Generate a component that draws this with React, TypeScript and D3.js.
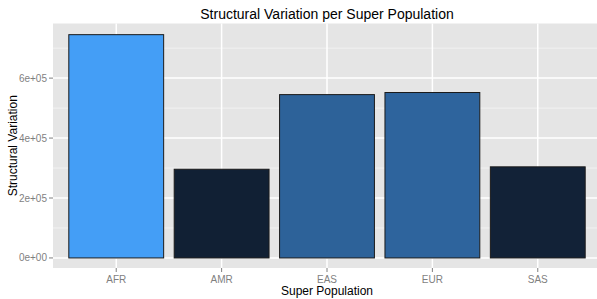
import React, { useEffect, useRef } from 'react';
import * as d3 from 'd3';

const populations = ['AFR', 'AMR', 'EAS', 'EUR', 'SAS'];
const variations = [745000, 296000, 545000, 552000, 304000];
const yTicks = [0, 200000, 400000, 600000];
const yMinor = [100000, 300000, 500000, 700000];

const W = 597;
const H = 299;

const App = (): React.ReactElement => {
  const ref = useRef<SVGSVGElement>(null);

  useEffect(() => {
    document.body.style.margin = '0';
    if (!ref.current) return;
    const svg = d3.select(ref.current);
    svg.selectAll('*').remove();

    const margin = { top: 23.5, right: -4, bottom: 31, left: 53 };
    const pw = W - margin.left - margin.right;
    const ph = H - margin.top - margin.bottom;
    const font = '"Liberation Sans", Arial, sans-serif';

    const maxV = d3.max(variations) as number;
    const y = d3
      .scaleLinear()
      .domain([-maxV * 0.045, maxV * 1.05])
      .range([ph, 0]);
    const x = d3
      .scaleBand<string>()
      .domain(populations)
      .range([0, pw])
      .paddingInner(0.1)
      .paddingOuter(0.15);

    const fill = d3
      .scaleLinear<string>()
      .domain([d3.min(variations) as number, maxV])
      .range(['#112034', '#449ef6'])
      .interpolate(d3.interpolateLab);

    const g = svg.append('g').attr('transform', `translate(${margin.left},${margin.top})`);

    g.append('rect').attr('width', pw).attr('height', ph).attr('fill', '#e5e5e5');

    g.selectAll('line.minor')
      .data(yMinor)
      .join('line')
      .attr('x1', 0)
      .attr('x2', pw)
      .attr('y1', (d) => y(d))
      .attr('y2', (d) => y(d))
      .attr('stroke', '#f2f2f2')
      .attr('stroke-width', 1);

    g.selectAll('line.majory')
      .data(yTicks)
      .join('line')
      .attr('x1', 0)
      .attr('x2', pw)
      .attr('y1', (d) => y(d))
      .attr('y2', (d) => y(d))
      .attr('stroke', '#ffffff')
      .attr('stroke-width', 1.5);

    g.append('g')
      .selectAll('line')
      .data(populations)
      .join('line')
      .attr('x1', (d) => (x(d) as number) + x.bandwidth() / 2)
      .attr('x2', (d) => (x(d) as number) + x.bandwidth() / 2)
      .attr('y1', 0)
      .attr('y2', ph)
      .attr('stroke', '#ffffff')
      .attr('stroke-width', 1.5);

    g.append('g')
      .selectAll('rect')
      .data(populations)
      .join('rect')
      .attr('x', (d) => x(d) as number)
      .attr('width', x.bandwidth())
      .attr('y', (_, i) => y(variations[i]))
      .attr('height', (_, i) => y(0) - y(variations[i]))
      .attr('fill', (_, i) => fill(variations[i]))
      .attr('stroke', '#1a1a1a')
      .attr('stroke-width', 1);

    // y axis ticks + labels
    const ya = g.append('g');
    ya.selectAll('line')
      .data(yTicks)
      .join('line')
      .attr('x1', -4)
      .attr('x2', 0)
      .attr('y1', (d) => y(d))
      .attr('y2', (d) => y(d))
      .attr('stroke', '#7f7f7f');
    ya.selectAll('text')
      .data(yTicks)
      .join('text')
      .attr('x', -6)
      .attr('y', (d) => y(d))
      .attr('dy', '0.35em')
      .attr('text-anchor', 'end')
      .attr('font-family', font)
      .attr('font-size', 10)
      .attr('fill', '#7f7f7f')
      .text((d) => d3.format('.0e')(d).replace('e+', 'e+0').replace('e-', 'e-0'));

    // x axis ticks + labels
    const xa = g.append('g');
    xa.selectAll('line')
      .data(populations)
      .join('line')
      .attr('x1', (d) => (x(d) as number) + x.bandwidth() / 2)
      .attr('x2', (d) => (x(d) as number) + x.bandwidth() / 2)
      .attr('y1', ph)
      .attr('y2', ph + 4)
      .attr('stroke', '#7f7f7f');
    xa.selectAll('text')
      .data(populations)
      .join('text')
      .attr('x', (d) => (x(d) as number) + x.bandwidth() / 2)
      .attr('y', ph + 15)
      .attr('text-anchor', 'middle')
      .attr('font-family', font)
      .attr('font-size', 10)
      .attr('fill', '#7f7f7f')
      .text((d) => d);

    svg.append('text')
      .attr('x', margin.left + pw / 2)
      .attr('y', 19)
      .attr('text-anchor', 'middle')
      .attr('font-family', font)
      .attr('font-size', 14)
      .attr('fill', '#000')
      .text('Structural Variation per Super Population');

    svg.append('text')
      .attr('x', margin.left + pw / 2)
      .attr('y', 295)
      .attr('text-anchor', 'middle')
      .attr('font-family', font)
      .attr('font-size', 12)
      .attr('fill', '#000')
      .text('Super Population');

    svg.append('text')
      .attr('transform', `translate(17,${margin.top + ph / 2}) rotate(-90)`)
      .attr('text-anchor', 'middle')
      .attr('font-family', font)
      .attr('font-size', 12)
      .attr('fill', '#000')
      .text('Structural Variation');
  }, []);

  return <svg ref={ref} width={W} height={H} style={{ display: 'block', background: '#fff' }} />;
};

export default App;
